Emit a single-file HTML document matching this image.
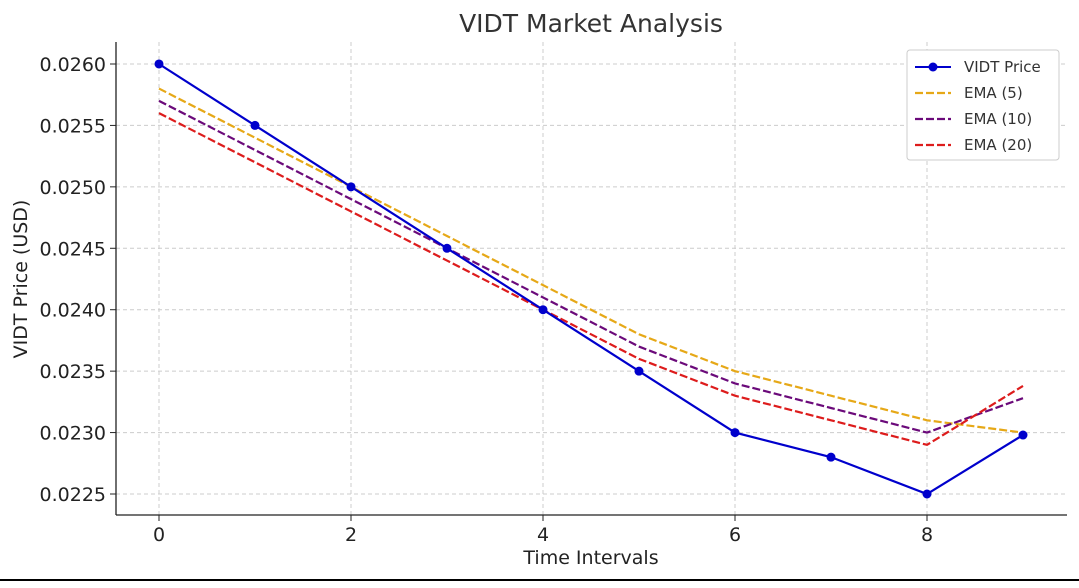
<!DOCTYPE html>
<html><head><meta charset="utf-8"><style>
body{margin:0;background:#fff;width:1079px;height:583px;overflow:hidden;font-family:"Liberation Sans","DejaVu Sans",sans-serif}
</style></head><body>
<svg id="chart" width="1079" height="583" xmlns="http://www.w3.org/2000/svg" font-family="DejaVu Sans, Liberation Sans, sans-serif">
<rect width="1079" height="583" fill="#fff"/>
<g id="grid"></g>
<g id="axes"></g>
<g id="series"></g>
<text x="591" y="32" font-size="25" fill="#333" text-anchor="middle">VIDT Market Analysis</text>
<text x="591" y="564" font-size="19" fill="#222" text-anchor="middle">Time Intervals</text>
<text transform="translate(27,279) rotate(-90)" font-size="19" fill="#222" text-anchor="middle">VIDT Price (USD)</text>
<g>
<rect x="907" y="50" width="152" height="110" rx="3" fill="#fff" stroke="#ccc"/>
<line x1="915" y1="67" x2="951" y2="67" stroke="#0000cc" stroke-width="2"/><circle cx="933" cy="67" r="4.5" fill="#0000cc"/>
<text x="964" y="72" font-size="15" fill="#333">VIDT Price</text>
<line x1="915" y1="93" x2="951" y2="93" stroke="#e6a817" stroke-width="2.2" stroke-dasharray="8,3"/>
<text x="964" y="98" font-size="15" fill="#333">EMA (5)</text>
<line x1="915" y1="119" x2="951" y2="119" stroke="#6b0a7a" stroke-width="2.2" stroke-dasharray="8,3"/>
<text x="964" y="124" font-size="15" fill="#333">EMA (10)</text>
<line x1="915" y1="145" x2="951" y2="145" stroke="#dd1c1c" stroke-width="2.2" stroke-dasharray="8,3"/>
<text x="964" y="150" font-size="15" fill="#333">EMA (20)</text>
</g>
<line x1="0" y1="580" x2="1079" y2="580" stroke="#000" stroke-width="2"/>
</svg>
<script>
const xCats=[0,1,2,3,4,5,6,7,8,9];
const price=[0.0260,0.0255,0.0250,0.0245,0.0240,0.0235,0.0230,0.0228,0.0225,0.02298];
const ema5=[0.0258,0.0254,0.0250,0.0246,0.0242,0.0238,0.0235,0.0233,0.0231,0.0230];
const ema10=[0.0257,0.0253,0.0249,0.0245,0.0241,0.0237,0.0234,0.0232,0.0230,0.02328];
const ema20=[0.0256,0.0252,0.0248,0.0244,0.0240,0.0236,0.0233,0.0231,0.0229,0.02338];
const yTicks=[0.0225,0.0230,0.0235,0.0240,0.0245,0.0250,0.0255,0.0260];
const xTicks=[0,2,4,6,8];
const NS="http://www.w3.org/2000/svg";
const X=v=>159+v*96;
const Y=v=>494-(v-0.0225)/0.0005*61.43;
function mk(t,a,p){const e=document.createElementNS(NS,t);for(const k in a)e.setAttribute(k,a[k]);p.appendChild(e);return e;}
const grid=document.getElementById('grid'),axes=document.getElementById('axes'),ser=document.getElementById('series');
yTicks.forEach(t=>{
 const l=mk('line',{x1:116,x2:1067,y1:Y(t),y2:Y(t),stroke:'#ccc','stroke-dasharray':'4,3'},grid);
 
 
 mk('line',{x1:110,x2:116,y1:Y(t),y2:Y(t),stroke:'#222'},axes);
 const tx=mk('text',{x:106,y:Y(t)+7,'font-size':19,'text-anchor':'end',fill:'#222'},axes);
 tx.textContent=t.toFixed(4);
 
 
});
xTicks.forEach(t=>{
 const l=mk('line',{x1:X(t),x2:X(t),y1:42,y2:515,stroke:'#ccc','stroke-dasharray':'4,3'},grid);
 
 
 mk('line',{x1:X(t),x2:X(t),y1:515,y2:521,stroke:'#222'},axes);
 const tx=mk('text',{x:X(t),y:541,'font-size':19,'text-anchor':'middle',fill:'#222'},axes);
 tx.textContent=t;
 
 
});
mk('line',{x1:116,x2:116,y1:42,y2:515,stroke:'#222','stroke-width':1.3},axes);
mk('line',{x1:116,x2:1067,y1:515,y2:515,stroke:'#222','stroke-width':1.3},axes);
function line(arr,color,dash,name){
 const p=mk('polyline',{points:arr.map((v,i)=>X(xCats[i])+','+Y(v)).join(' '),fill:'none',stroke:color,'stroke-width':2.2,'stroke-dasharray':dash||'none'},ser);
 
 
}
line(ema5,'#e6a817','8,3','ema5-line');
line(ema10,'#6b0a7a','8,3','ema10-line');
line(ema20,'#dd1c1c','8,3','ema20-line');
line(price,'#0000cc',null,'price-line');
price.forEach((v,i)=>{
 const c=mk('circle',{cx:X(xCats[i]),cy:Y(v),r:4.5,fill:'#0000cc'},ser);
 
 
});
</script>
</body></html>
